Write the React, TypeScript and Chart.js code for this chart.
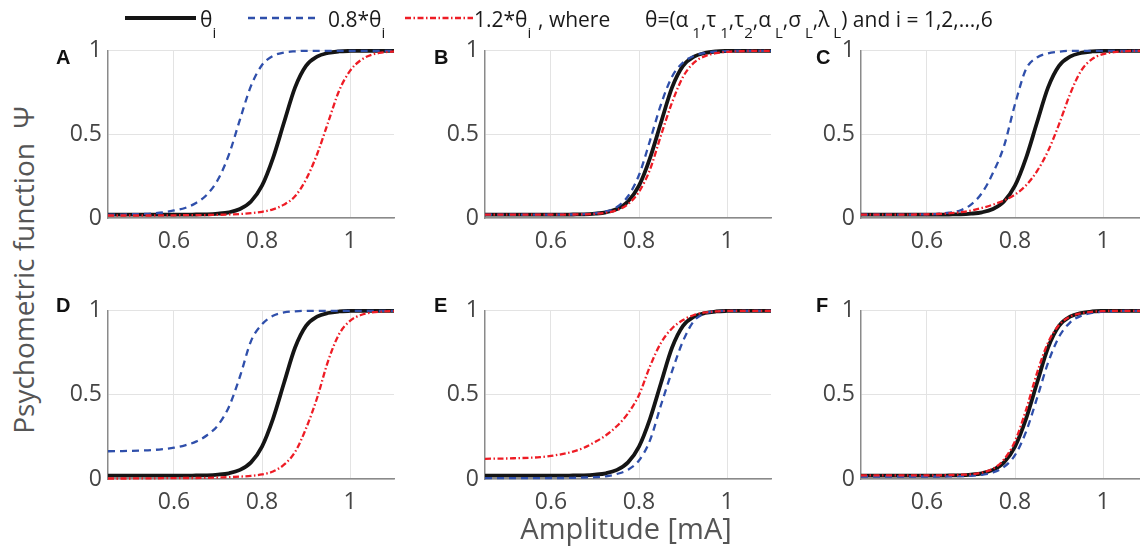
import React, { useEffect, useRef } from "react";
import { Chart, registerables } from "chart.js";
Chart.register(...registerables);

// ---------- data ----------
const amplitude = [0.45, 0.475, 0.5, 0.525, 0.55, 0.575, 0.6, 0.625, 0.65, 0.675, 0.7, 0.725, 0.75, 0.775, 0.8, 0.825, 0.85, 0.875, 0.9, 0.925, 0.95, 0.975, 1.0, 1.025, 1.05, 1.075, 1.1];
const xTickValues = [0.6, 0.8, 1];
const yTickValues = [0, 0.5, 1];
const panelLetters = ["A", "B", "C", "D", "E", "F"];

// theta_i (same in every panel)
const psiTheta = [0.02, 0.02, 0.02, 0.02, 0.02, 0.02, 0.02, 0.02, 0.021, 0.022, 0.026, 0.034, 0.054, 0.099, 0.193, 0.358, 0.571, 0.78, 0.91, 0.965, 0.987, 0.996, 0.999, 1, 1, 1, 1];

// 0.8*theta_i
const psiA08 = [0.02, 0.02, 0.022, 0.024, 0.027, 0.033, 0.045, 0.06, 0.09, 0.14, 0.23, 0.38, 0.59, 0.79, 0.915, 0.97, 0.99, 0.997, 1, 1, 1, 1, 1, 1, 1, 1, 1];
const psiB08 = [0.02, 0.02, 0.02, 0.02, 0.02, 0.02, 0.02, 0.021, 0.021, 0.023, 0.028, 0.039, 0.066, 0.13, 0.257, 0.463, 0.68, 0.845, 0.93, 0.97, 0.988, 0.995, 0.998, 0.999, 1, 1, 1];
const psiC08 = [0.02, 0.02, 0.02, 0.02, 0.02, 0.021, 0.022, 0.025, 0.032, 0.045, 0.08, 0.15, 0.27, 0.43, 0.68, 0.89, 0.96, 0.985, 0.995, 1, 1, 1, 1, 1, 1, 1, 1];
const psiD08 = [0.165, 0.166, 0.167, 0.169, 0.172, 0.178, 0.186, 0.2, 0.222, 0.26, 0.32, 0.43, 0.61, 0.82, 0.92, 0.97, 0.99, 0.997, 1, 1, 1, 1, 1, 1, 1, 1, 1];
const psiE08 = [0.005, 0.005, 0.005, 0.005, 0.005, 0.005, 0.006, 0.006, 0.007, 0.009, 0.011, 0.016, 0.03, 0.055, 0.11, 0.23, 0.44, 0.64, 0.82, 0.94, 0.985, 0.997, 1, 1, 1, 1, 1];
const psiF08 = [0.015, 0.015, 0.015, 0.015, 0.015, 0.015, 0.015, 0.015, 0.016, 0.017, 0.019, 0.025, 0.039, 0.072, 0.142, 0.28, 0.48, 0.69, 0.845, 0.93, 0.97, 0.987, 0.995, 0.998, 1, 1, 1];

// 1.2*theta_i
const psiA12 = [0.015, 0.015, 0.015, 0.015, 0.015, 0.016, 0.016, 0.017, 0.017, 0.018, 0.019, 0.021, 0.024, 0.029, 0.037, 0.052, 0.08, 0.13, 0.23, 0.38, 0.57, 0.76, 0.88, 0.945, 0.977, 0.99, 0.996];
const psiB12 = [0.02, 0.02, 0.02, 0.02, 0.02, 0.02, 0.02, 0.02, 0.021, 0.022, 0.025, 0.032, 0.047, 0.083, 0.157, 0.29, 0.495, 0.69, 0.844, 0.929, 0.968, 0.986, 0.994, 0.997, 0.999, 1, 1];
const psiC12 = [0.02, 0.02, 0.02, 0.02, 0.02, 0.021, 0.022, 0.024, 0.028, 0.034, 0.045, 0.06, 0.08, 0.105, 0.14, 0.195, 0.28, 0.4, 0.56, 0.74, 0.88, 0.95, 0.98, 0.992, 0.997, 1, 1];
const psiD12 = [0.003, 0.003, 0.003, 0.004, 0.004, 0.005, 0.005, 0.006, 0.006, 0.007, 0.009, 0.011, 0.014, 0.019, 0.027, 0.045, 0.085, 0.16, 0.3, 0.48, 0.7, 0.86, 0.94, 0.975, 0.99, 0.996, 0.998];
const psiE12 = [0.12, 0.121, 0.122, 0.124, 0.126, 0.13, 0.137, 0.148, 0.163, 0.186, 0.22, 0.26, 0.315, 0.39, 0.5, 0.67, 0.81, 0.895, 0.945, 0.975, 0.99, 0.996, 1, 1, 1, 1, 1];
const psiF12 = [0.022, 0.022, 0.022, 0.022, 0.022, 0.022, 0.022, 0.022, 0.023, 0.025, 0.028, 0.038, 0.061, 0.116, 0.225, 0.41, 0.63, 0.81, 0.915, 0.965, 0.985, 0.994, 0.998, 1, 1, 1, 1];

const lowSeries = [psiA08, psiB08, psiC08, psiD08, psiE08, psiF08];
const highSeries = [psiA12, psiB12, psiC12, psiD12, psiE12, psiF12];

// ---------- layout / style ----------
const FONT = "'Open Sans', 'Noto Sans', sans-serif";
const PLOT_W = 286;
const PANEL_POS = [
  { left: 108, top: 43, h: 175 },
  { left: 485, top: 43, h: 175 },
  { left: 861, top: 43, h: 175 },
  { left: 108, top: 303, h: 176 },
  { left: 485, top: 303, h: 176 },
  { left: 861, top: 303, h: 176 },
];
const LETTER_POS = [
  { left: 56, top: 47 },
  { left: 434, top: 47 },
  { left: 816, top: 47 },
  { left: 56, top: 295 },
  { left: 434, top: 295 },
  { left: 816, top: 295 },
];
const AXIS_W = 60;
const AXIS_H = 45;
const PAD = 12;
const BLACK = "#151515";
const BLUE = "#2f4fab";
const RED = "#ee1c25";
const TICK_COLOR = "#454545";

function pts(arr: number[]) {
  return amplitude.map((x, i) => ({ x, y: arr[i] }));
}

function PanelChart({ idx }: { idx: number }) {
  const ref = useRef<HTMLCanvasElement>(null);
  const pos = PANEL_POS[idx];
  const w = PLOT_W + AXIS_W + PAD;
  const h = pos.h + AXIS_H + PAD;
  useEffect(() => {
    const chart = new Chart(ref.current as HTMLCanvasElement, {
      type: "line",
      data: {
        datasets: [
          {
            data: pts(highSeries[idx]),
            borderColor: RED,
            borderWidth: 2.3,
            borderDash: [6, 2.5, 1.5, 2.5],
            cubicInterpolationMode: "monotone",
            pointRadius: 0,
            fill: false,
            clip: false,
          },
          {
            data: pts(lowSeries[idx]),
            borderColor: BLUE,
            borderWidth: 2.3,
            borderDash: [7, 5],
            cubicInterpolationMode: "monotone",
            pointRadius: 0,
            fill: false,
            clip: false,
          },
          {
            data: pts(psiTheta),
            borderColor: BLACK,
            borderWidth: 3.8,
            cubicInterpolationMode: "monotone",
            pointRadius: 0,
            fill: false,
            clip: false,
          },
        ],
      } as any,
      options: {
        animation: false,
        responsive: false,
        devicePixelRatio: 1,
        layout: { padding: { top: PAD, right: PAD, left: 0, bottom: 0 } },
        plugins: { legend: { display: false }, tooltip: { enabled: false } },
        scales: {
          x: {
            type: "linear",
            min: 0.45,
            max: 1.1,
            afterBuildTicks: (s: any) => {
              s.ticks = xTickValues.map((v) => ({ value: v }));
            },
            afterFit: (s: any) => {
              s.height = AXIS_H;
            },
            grid: { color: "#e3e3e3", drawTicks: false, lineWidth: 1 },
            border: { color: "#8a8a8a", width: 1.5 },
            ticks: {
              padding: 10,
              maxRotation: 0,
              color: TICK_COLOR,
              font: { family: FONT, size: 23 },
              callback: (v: any) => String(v),
            },
          },
          y: {
            type: "linear",
            min: 0,
            max: 1,
            afterBuildTicks: (s: any) => {
              s.ticks = yTickValues.map((v) => ({ value: v }));
            },
            afterFit: (s: any) => {
              s.width = AXIS_W;
            },
            grid: { color: "#e3e3e3", drawTicks: false, lineWidth: 1 },
            border: { color: "#8a8a8a", width: 1.5 },
            ticks: {
              padding: 6,
              color: TICK_COLOR,
              font: { family: FONT, size: 23 },
              callback: (v: any) => String(v),
            },
          },
        },
      } as any,
    });
    return () => chart.destroy();
  }, [idx]);
  return (
    <canvas
      ref={ref}
      width={w}
      height={h}
      style={{
        position: "absolute",
        left: pos.left - AXIS_W,
        top: pos.top - PAD,
        width: w,
        height: h,
      }}
    />
  );
}

const subStyle: React.CSSProperties = { fontSize: 15, position: "relative", top: 11 };

function Sub({ t }: { t: string }) {
  return <span style={subStyle}>{t}</span>;
}

export default function App() {
  const legendText: React.CSSProperties = {
    position: "absolute",
    top: 9,
    fontFamily: FONT,
    fontSize: 21,
    lineHeight: "21px",
    color: "#1a1a1a",
    whiteSpace: "nowrap",
  };
  return (
    <div
      style={{
        position: "fixed",
        left: 0,
        top: 0,
        width: 1140,
        height: 554,
        overflow: "hidden",
        background: "#ffffff",
      }}
    >
      {PANEL_POS.map((_, i) => (
        <PanelChart key={i} idx={i} />
      ))}
      {panelLetters.map((L, i) => (
        <div
          key={L}
          style={{
            position: "absolute",
            left: LETTER_POS[i].left,
            top: LETTER_POS[i].top,
            fontFamily: "'Liberation Sans', Arial, sans-serif",
            fontWeight: 700,
            fontSize: 20,
            lineHeight: "20px",
            color: "#111",
          }}
        >
          {L}
        </div>
      ))}
      {/* legend */}
      <svg style={{ position: "absolute", left: 0, top: 0 }} width={1140} height={40}>
        <line x1={125} y1={18} x2={196} y2={18} stroke={BLACK} strokeWidth={3.8} />
        <line x1={248} y1={18} x2={318} y2={18} stroke={BLUE} strokeWidth={2.3} strokeDasharray="7 5" />
        <line x1={405} y1={18} x2={473} y2={18} stroke={RED} strokeWidth={2.3} strokeDasharray="6 2.5 1.5 2.5" />
      </svg>
      <div style={{ ...legendText, left: 200 }}>
        θ<Sub t="i" />
      </div>
      <div style={{ ...legendText, left: 328 }}>
        0.8*θ<Sub t="i" />
      </div>
      <div style={{ ...legendText, left: 474 }}>
        1.2*θ<Sub t="i" />
      </div>
      <div style={{ ...legendText, left: 538 }}>, where</div>
      <div style={{ ...legendText, left: 645 }}>
        θ=(α<Sub t=" 1" />,τ<Sub t=" 1" />,τ<Sub t="2" />,α<Sub t=" L" />,σ<Sub t=" L" />,λ<Sub t=" L" />) and i = 1,2,...,6
      </div>
      {/* axis titles */}
      <div
        style={{
          position: "absolute",
          left: 23,
          top: 270,
          transform: "translate(-50%, -50%) rotate(-90deg)",
          fontFamily: FONT,
          fontSize: 28,
          color: "#555",
          whiteSpace: "nowrap",
        }}
      >
        Psychometric function{"\u00a0\u00a0"}Ψ
      </div>
      <div
        style={{
          position: "absolute",
          left: 626,
          top: 527,
          transform: "translate(-50%, -50%)",
          fontFamily: FONT,
          fontSize: 29,
          color: "#555",
          whiteSpace: "nowrap",
        }}
      >
        Amplitude [mA]
      </div>
    </div>
  );
}
